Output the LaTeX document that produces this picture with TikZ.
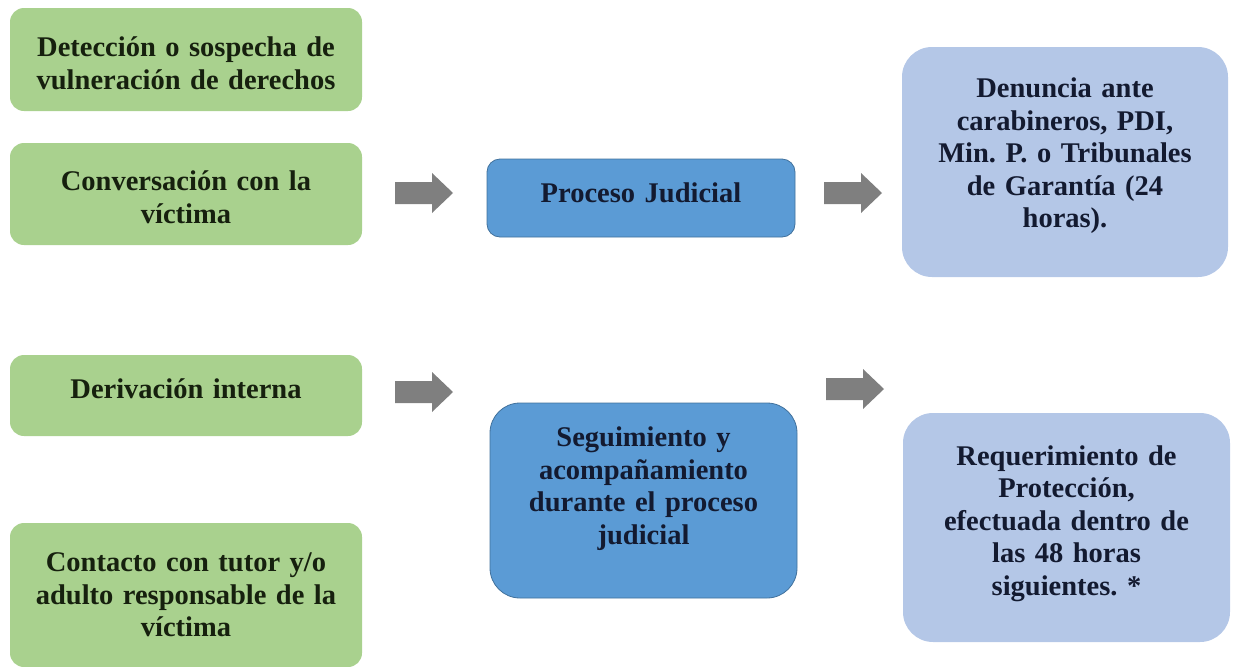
\documentclass[tikz,border=0pt]{standalone}
\usepackage{fontspec}
\setmainfont{Liberation Serif}[BoldFont={Liberation Serif Bold}]
\usetikzlibrary{calc}
\definecolor{gfill}{HTML}{A9D18E}
\definecolor{dblue}{HTML}{5B9BD5}
\definecolor{dblueline}{HTML}{41719C}
\definecolor{lblue}{HTML}{B4C7E7}
\definecolor{agray}{HTML}{7F7F7F}
\definecolor{gtext}{HTML}{16200E}
\definecolor{btext}{HTML}{131A30}
\tikzset{
  x=1pt, y=-1pt,
  boxtext/.style={font=\fontsize{28.5}{32.5}\selectfont\bfseries\frenchspacing, align=center, inner sep=0pt},
  greenbox/.style={fill=gfill, rounded corners=14pt, inner sep=0pt},
  darkbox/.style={fill=dblue, draw=dblueline, line width=0.8pt, rounded corners=13pt, inner sep=0pt},
  lightbox/.style={fill=lblue, rounded corners=30pt, inner sep=0pt},
  gtxt/.style={boxtext, text=gtext, text width=345pt},
  btxt/.style={boxtext, text=btext, text width=320pt},
}
\newcommand{\blockarr}[2]{% name, center coordinate
  \coordinate (#1) at (#2);
  \fill[agray] ($(#1)+(-29,-11)$) -- ($(#1)+(8,-11)$) -- ($(#1)+(8,-20)$) -- ($(#1)+(29,0)$)
     -- ($(#1)+(8,20)$) -- ($(#1)+(8,11)$) -- ($(#1)+(-29,11)$) -- cycle;}
\begin{document}
\begin{tikzpicture}
\useasboundingbox (0,0) rectangle (1235,667);
% green boxes
\node[greenbox, minimum width=352pt, minimum height=103pt] (g1) at (186,59.5) {};
\node[gtxt] (g1t) at ($(g1)+(0,4)$) {Detección o sospecha de\\vulneración de derechos};
\node[greenbox, minimum width=352pt, minimum height=102pt] (g2) at (186,194) {};
\node[gtxt] (g2t) at ($(g2)+(0,3)$) {Conversación con la\\víctima};
\node[greenbox, minimum width=352pt, minimum height=81pt] (g3) at (186,395.5) {};
\node[gtxt] (g3t) at ($(g3)+(0,-7)$) {Derivación interna};
\node[greenbox, minimum width=352pt, minimum height=144pt] (g4) at (186,595) {};
\node[gtxt] (g4t) at ($(g4)+(0,0)$) {Contacto con tutor y/o\\adulto responsable de la\\víctima};
% dark blue boxes
\node[darkbox, minimum width=308pt, minimum height=78pt] (p1) at (641,198) {};
\node[btxt] (p1t) at ($(p1)+(0,-5)$) {Proceso Judicial};
\node[darkbox, minimum width=307pt, minimum height=195pt, rounded corners=30pt] (p2) at (643.5,500.5) {};
\node[btxt] (p2t) at ($(p2)+(0,-12)$) {Seguimiento y\\acompañamiento\\durante el proceso\\judicial};
% light blue boxes
\node[lightbox, minimum width=326pt, minimum height=230pt] (d1) at (1065,162) {};
\node[btxt] (d1t) at ($(d1)+(0,-6)$) {Denuncia ante\\carabineros, PDI,\\Min. P. o Tribunales\\de Garantía (24\\horas).};
\node[lightbox, minimum width=327pt, minimum height=229pt] (d2) at (1066.5,527.5) {};
\node[btxt] (d2t) at ($(d2)+(0,-4)$) {Requerimiento de\\Protección,\\efectuada dentro de\\las 48 horas\\siguientes. *};
% block arrows
\blockarr{a1}{424,193}
\blockarr{a2}{853,193}
\blockarr{a3}{424,392}
\blockarr{a4}{855,389}
\end{tikzpicture}
\end{document}
